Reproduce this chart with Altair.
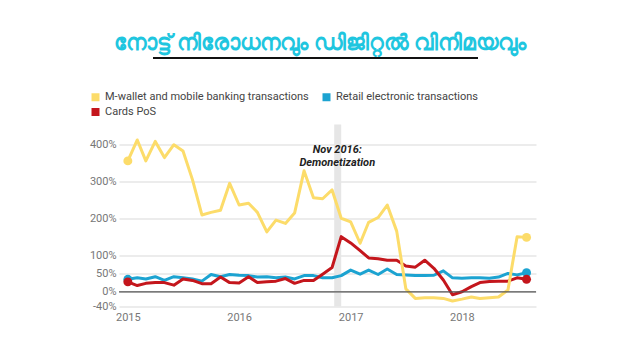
import altair as alt
import pandas as pd

# ---- data ----
months = pd.date_range("2015-01-01", "2018-08-01", freq="MS").strftime("%Y-%m-%d").tolist()

series_names = [
    "M-wallet and mobile banking transactions",
    "Cards PoS",
    "Retail electronic transactions",
]

mwallet = [356, 413, 356, 409, 365, 400, 383, 305, 209, 216, 222, 295,
           236, 241, 216, 163, 195, 186, 214, 329, 256, 253, 277, 200,
           190, 132, 189, 202, 236, 165, 8, -18, -16, -16, -18, -25,
           -20, -14, -18, -16, -14, 5, 150, 148]

retail = [34, 38, 35, 41, 31, 41, 38, 35, 29, 47, 41, 47,
          45, 44, 40, 41, 38, 40, 35, 44, 44, 38, 38, 44,
          59, 48, 59, 47, 62, 47, 46, 44, 44, 45, 57, 38,
          37, 38, 38, 37, 40, 50, 46, 52]

cards = [27, 17, 23, 25, 25, 18, 35, 31, 22, 22, 40, 25,
         24, 41, 25, 27, 29, 36, 23, 31, 31, 48, 66, 150,
         133, 112, 92, 90, 86, 86, 70, 67, 86, 64, 32, -8,
         0, 14, 25, 28, 29, 29, 38, 34]

colors = ["#fcdc6a", "#c4161c", "#1ca3d1"]

y_ticks = [-40, 0, 50, 100, 200, 300, 400]

title_text = "നോട്ട് നിരോധനവും ഡിജിറ്റൽ വിനിമയവും"
annotation_lines = ["Nov 2016:", "Demonetization"]
band_start = "2016-11-08"
band_end = "2016-12-01"

# ---- tables ----
rows = []
for name, vals in [(series_names[2], retail), (series_names[1], cards), (series_names[0], mwallet)]:
    for d, v in zip(months, vals):
        rows.append({"date": d, "series": name, "value": v})
df = pd.DataFrame(rows)
ends = df[(df["date"] == months[0]) | (df["date"] == months[-1])]

W, H = 417, 182

xscale = alt.Scale(
    type="utc",
    domain=[alt.DateTime(year=2014, month=12, date=3, utc=True),
            alt.DateTime(year=2018, month=9, date=1, utc=True)],
)
yscale = alt.Scale(domain=[-40, 455], nice=False, zero=False)
cscale = alt.Scale(domain=series_names, range=colors)

color = alt.Color(
    "series:N",
    scale=cscale,
    legend=alt.Legend(
        title=None, orient="none", legendX=-29, legendY=-33, columns=2,
        symbolType="square", symbolSize=64, symbolStrokeWidth=0,
        labelFontSize=11, labelColor="#444", labelFont="Roboto", labelLimit=400,
        columnPadding=12, rowPadding=3, labelOffset=4, padding=0,
    ),
)

xaxis = alt.Axis(format="%Y", tickCount="year", grid=False, labelPadding=5)
yaxis = alt.Axis(values=y_ticks, tickCount=20, grid=True, gridColor="#d9d9d9", gridWidth=1,
                 labelExpr="datum.value + '%'", labelPadding=3)

lines = alt.Chart(df).mark_line(strokeWidth=3, strokeJoin="round").encode(
    x=alt.X("date:T", scale=xscale, title=None, axis=xaxis),
    y=alt.Y("value:Q", scale=yscale, title=None, axis=yaxis),
    color=color,
    detail="series:N",
)

band = alt.Chart(pd.DataFrame({"s": [band_start], "e": [band_end]})).mark_rect(
    color="#e6e6e6"
).encode(
    x=alt.X("s:T", scale=xscale, title=None),
    x2="e:T",
)

zero = alt.Chart(pd.DataFrame({"v": [0]})).mark_rule(color="#555", strokeWidth=1.2).encode(
    y=alt.Y("v:Q", scale=yscale, title=None)
)

dots = alt.Chart(ends).mark_circle(size=80, opacity=1).encode(
    x=alt.X("date:T", scale=xscale, title=None),
    y=alt.Y("value:Q", scale=yscale, title=None),
    color=alt.Color("series:N", scale=cscale, legend=None),
)

annot = alt.Chart(pd.DataFrame({"d": ["2016-11-18"], "v": [386], "t": [annotation_lines]})).mark_text(
    fontSize=11, fontWeight="bold", fontStyle="italic", color="#222",
    baseline="middle", align="center", lineHeight=13, font="Roboto",
).encode(
    x=alt.X("d:T", scale=xscale, title=None),
    y=alt.Y("v:Q", scale=yscale, title=None),
    text="t",
)

title = alt.Chart(pd.DataFrame({"t": [title_text]})).mark_text(
    fontSize=22, fontWeight="bold", color="#1fc6df", align="center", baseline="middle",
).encode(
    text="t:N",
    x=alt.value(201),
    y=alt.value(-82),
)

underline = alt.Chart(pd.DataFrame({"a": [0]})).mark_rule(color="#111", strokeWidth=2).encode(
    x=alt.value(34), x2=alt.value(359), y=alt.value(-66.4)
)

chart = alt.layer(band, lines, zero, dots, annot, title, underline).properties(
    width=W, height=H,
    autosize=alt.AutoSizeParams(type="none"),
    padding={"left": 111, "top": 116.5, "right": 96, "bottom": 45.5},
    background="white",
).configure(font="Roboto").configure_view(stroke=None).configure_axis(
    domain=False, ticks=False, labelFontSize=11, labelColor="#777",
    labelOverlap=False, labelFont="Roboto",
).configure_axisX(grid=False)

chart.save("out.html", embed_options={"renderer": "svg", "actions": False})
